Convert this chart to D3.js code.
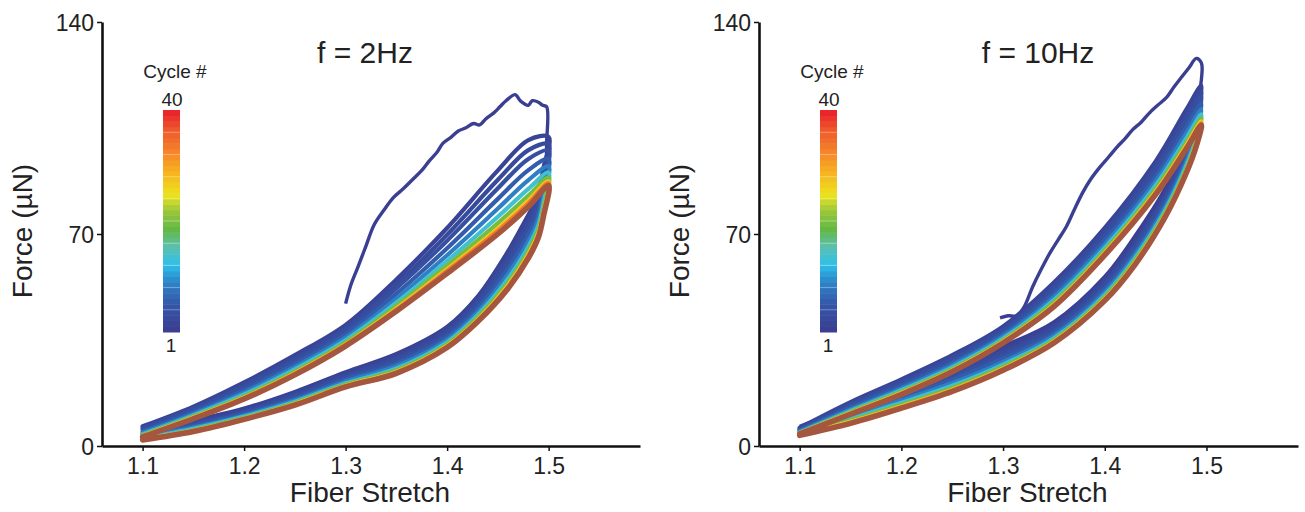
<!DOCTYPE html>
<html>
<head>
<meta charset="utf-8">
<script src="https://cdn.jsdelivr.net/npm/d3@7"></script>
<style>
  html, body { margin: 0; padding: 0; background: #fff; }
  svg { display: block; font-family: "Liberation Sans", Arial, sans-serif; }
  .axis path, .axis line { stroke: #111; }
  .axis text { fill: #222; }
</style>
</head>
<body>
<svg id="chart" width="1305" height="512"></svg>
<script>
// ---- data ----
const xTicks = [1.1, 1.2, 1.3, 1.4, 1.5]
const yTicks = [0, 70, 140]
const cycleIds = [2, 3, 4, 6, 9, 14, 20, 28, 34, 40]

// f = 2Hz
const loadStretch2Hz = [1.10, 1.15, 1.20, 1.25, 1.30, 1.35, 1.40, 1.45, 1.48, 1.50]
const unloadStretch2Hz = [1.50, 1.495, 1.49, 1.48, 1.46, 1.43, 1.40, 1.35, 1.30, 1.25, 1.20, 1.15, 1.10]
const load2Hz = [
  [6.5, 13, 21, 30, 40, 55, 72, 91, 101, 102],
  [6, 12.4, 20.2, 29, 39, 53.4, 69.8, 87.9, 97.7, 99.6],
  [5.5, 11.9, 19.5, 28.2, 38, 52.1, 67.8, 85.1, 94.8, 97.5],
  [4.9, 11.2, 18.5, 27.1, 36.9, 50.3, 65.3, 81.6, 91.1, 94.8],
  [4.4, 10.6, 17.7, 26.1, 35.8, 48.7, 63, 78.4, 87.8, 92.4],
  [3.9, 10.1, 17, 25.3, 34.9, 47.3, 61.1, 75.7, 84.9, 90.3],
  [3.6, 9.7, 16.4, 24.6, 34.2, 46.3, 59.6, 73.6, 82.7, 88.7],
  [3.3, 9.4, 16, 24.1, 33.6, 45.4, 58.4, 71.9, 81, 87.4],
  [3.2, 9.2, 15.8, 23.8, 33.4, 45, 57.8, 71, 80.1, 86.8],
  [3, 9, 15.5, 23.5, 33, 44.5, 57, 70, 79, 86],
]
const unload2Hz = [
  [102, 92, 84, 76, 64, 49, 39, 30, 24, 17.5, 12, 8, 4],
  [99.6, 89.6, 81.8, 73.9, 62.2, 47.8, 38, 29.1, 23.3, 16.9, 11.5, 7.5, 3.7],
  [97.5, 87.5, 79.8, 72.1, 60.6, 46.8, 37.2, 28.3, 22.7, 16.4, 11.1, 7.1, 3.4],
  [94.8, 84.8, 77.3, 69.7, 58.6, 45.4, 36.1, 27.3, 22, 15.7, 10.6, 6.6, 3.1],
  [92.4, 82.4, 75, 67.6, 56.8, 44.2, 35.1, 26.4, 21.3, 15.1, 10.1, 6.1, 2.8],
  [90.3, 80.3, 73, 65.8, 55.2, 43.2, 34.3, 25.6, 20.7, 14.6, 9.7, 5.7, 2.5],
  [88.7, 78.7, 71.6, 64.4, 54, 42.4, 33.6, 25, 20.3, 14.2, 9.3, 5.3, 2.3],
  [87.4, 77.4, 70.4, 63.3, 53.1, 41.7, 33.1, 24.5, 19.9, 13.9, 9.1, 5.1, 2.2],
  [86.6, 76.6, 69.6, 62.6, 52.5, 41.3, 32.8, 24.2, 19.7, 13.7, 9, 5, 2.1],
  [86, 76, 69, 62, 52, 41, 32.5, 24, 19.5, 13.5, 8.8, 4.8, 2],
]
const firstCycle2Hz = [
  [1.300, 47], [1.305, 53], [1.312, 59], [1.320, 66], [1.328, 73], [1.338, 78],
  [1.347, 82], [1.357, 85], [1.366, 88], [1.375, 91], [1.382, 94], [1.390, 97],
  [1.396, 100], [1.404, 102], [1.411, 104], [1.418, 105], [1.426, 106.5], [1.432, 106],
  [1.438, 108], [1.446, 110], [1.452, 112], [1.458, 114], [1.467, 116], [1.472, 114],
  [1.476, 113], [1.480, 112.5], [1.484, 114], [1.490, 113.5], [1.494, 112.5], [1.498, 112],
  [1.498, 100], [1.497, 90], [1.49, 82], [1.48, 76.5], [1.46, 64.5], [1.43, 49.5],
  [1.40, 39.5], [1.35, 30.5], [1.30, 24.5], [1.25, 18], [1.20, 12.5], [1.15, 8.5], [1.10, 4.5],
]

// f = 10Hz
const loadStretch10Hz = [1.10, 1.15, 1.20, 1.25, 1.30, 1.35, 1.40, 1.45, 1.48, 1.495]
const unloadStretch10Hz = [1.495, 1.49, 1.48, 1.46, 1.43, 1.40, 1.35, 1.30, 1.25, 1.20, 1.15, 1.10]
const load10Hz = [
  [6, 14.5, 22, 30, 39.5, 54, 72, 94, 111, 119],
  [5.7, 13.9, 21.3, 29.2, 38.7, 52.8, 70.7, 92.4, 109, 117],
  [5.4, 13.4, 20.6, 28.5, 38, 51.8, 69.5, 90.9, 107.4, 115.4],
  [5.1, 12.7, 19.8, 27.5, 37, 50.4, 68, 89, 105.2, 113.2],
  [4.8, 12.1, 19, 26.7, 36.2, 49.2, 66.6, 87.4, 103.2, 111.2],
  [4.5, 11.6, 18.4, 26, 35.5, 48.2, 65.4, 86, 101.5, 109.5],
  [4.3, 11.2, 17.9, 25.4, 34.9, 47.4, 64.5, 84.9, 100.2, 108.2],
  [4.2, 10.9, 17.5, 25, 34.5, 46.7, 63.8, 84, 99.2, 107.2],
  [4.1, 10.7, 17.2, 24.7, 34.2, 46.3, 63.4, 83.5, 98.5, 106.5],
  [4, 10.5, 17, 24.5, 34, 46, 63, 83, 98, 106],
]
const unload10Hz = [
  [119, 109, 99, 84, 68, 55, 40, 32, 25, 19, 12.5, 6],
  [117, 107.5, 97.7, 82.8, 66.8, 54, 39.1, 31, 24, 18, 11.8, 5.6],
  [115.4, 106.2, 96.5, 81.8, 65.8, 53, 38.3, 30, 23, 17.2, 11.1, 5.3],
  [113.2, 104.5, 95, 80.4, 64.4, 51.9, 37.3, 28.9, 21.9, 16.1, 10.3, 4.9],
  [111.2, 103, 93.6, 79.2, 63.2, 50.8, 36.4, 27.8, 20.8, 15.1, 9.5, 4.5],
  [109.5, 101.7, 92.4, 78.2, 62.2, 49.9, 35.6, 26.9, 19.9, 14.3, 8.9, 4.2],
  [108.2, 100.7, 91.5, 77.4, 61.4, 49.2, 35, 26.2, 19.2, 13.6, 8.4, 3.9],
  [107.2, 99.9, 90.8, 76.7, 60.7, 48.6, 34.5, 25.6, 18.6, 13.1, 8, 3.7],
  [106.5, 99.4, 90.4, 76.3, 60.3, 48.3, 34.2, 25.3, 18.3, 12.8, 7.7, 3.6],
  [106, 99, 90, 76, 60, 48, 34, 25, 18, 12.5, 7.5, 3.5],
]
const firstCycle10Hz = [
  [1.297, 42.3], [1.305, 43], [1.313, 43], [1.320, 45.5], [1.329, 52.5], [1.337, 58],
  [1.346, 63.7], [1.354, 68], [1.362, 72.3], [1.370, 78], [1.378, 83.5], [1.386, 88],
  [1.395, 92], [1.404, 95.5], [1.412, 98.7], [1.420, 101.5], [1.427, 104.3], [1.436, 107],
  [1.444, 110], [1.452, 112.5], [1.461, 115.2], [1.468, 118.5], [1.476, 122], [1.483, 125],
  [1.490, 128], [1.495, 126.5], [1.495, 121], [1.49, 111], [1.48, 101], [1.46, 85.5],
  [1.43, 69.5], [1.40, 56], [1.35, 41], [1.30, 33], [1.25, 26], [1.20, 19.5], [1.15, 13], [1.10, 6.5],
]

// ---- drawing ----
const svg = d3.select('#chart')
const nCycles = 40

const cmap = d3.scaleLinear()
  .domain([0, 0.12, 0.22, 0.3, 0.38, 0.46, 0.55, 0.62, 0.72, 0.82, 0.92, 1])
  .range(['#3a3f92', '#3458aa', '#2d86c8', '#2ec0ea', '#5cbfb0', '#62b846', '#9cc73c',
          '#ece41d', '#f7b51f', '#f5842a', '#ee5a2a', '#e9262b'])
const cycleColor = (c) => c === nCycles ? '#a5563f' : cmap((c - 1) / (nCycles - 1))

function drawPanel({left, right, title, titleX, loadGrid, unloadGrid, load, unload, first}) {
  const x = d3.scaleLinear().domain([1.06, 1.59]).range([left, right])
  const y = d3.scaleLinear().domain([0, 140]).range([446, 22])
  const g = svg.append('g')

  const line = d3.line()
    .x((d) => x(d[0]))
    .y((d) => y(d[1]))
    .curve(d3.curveCatmullRom.alpha(0.5))

  // first cycle underneath
  g.append('path')
    .attr('d', line(first))
    .attr('fill', 'none')
    .attr('stroke', cycleColor(1))
    .attr('stroke-width', 3.4)
    .attr('stroke-linejoin', 'round')

  cycleIds.forEach((c, k) => {
    const pts = loadGrid.map((s, i) => [s, load[k][i]])
      .concat(unloadGrid.slice(1).map((s, i) => [s, unload[k][i + 1]]))
    g.append('path')
      .attr('d', line(pts))
      .attr('fill', 'none')
      .attr('stroke', cycleColor(c))
      .attr('stroke-width', c === nCycles ? 5.5 : 4.2)
      .attr('stroke-linejoin', 'round')
      .attr('stroke-linecap', 'round')
  })

  // axes
  const ax = g.append('g')
    .attr('class', 'axis')
    .attr('transform', 'translate(0,446)')
    .call(d3.axisBottom(x).tickValues(xTicks).tickFormat(d3.format('.1f')).tickSize(5).tickSizeOuter(0).tickPadding(7))
  const ay = g.append('g')
    .attr('class', 'axis')
    .attr('transform', `translate(${left},0)`)
    .call(d3.axisLeft(y).tickValues(yTicks).tickSize(5).tickSizeOuter(0).tickPadding(3))
  ;[ax, ay].forEach((a) => {
    a.select('.domain').attr('stroke-width', 2.6)
    a.selectAll('.tick line').attr('stroke-width', 1.5)
    a.selectAll('.tick text').attr('font-size', 23)
  })
  ay.selectAll('.tick text').attr('dy', '0.36em')

  g.append('text')
    .attr('x', (left + right) / 2 - 1)
    .attr('y', 502)
    .attr('text-anchor', 'middle')
    .attr('font-size', 28)
    .attr('fill', '#222')
    .text('Fiber Stretch')

  g.append('text')
    .attr('transform', `translate(${left - 70},231) rotate(-90)`)
    .attr('text-anchor', 'middle')
    .attr('font-size', 28)
    .attr('fill', '#222')
    .text('Force (µN)')

  g.append('text')
    .attr('x', titleX)
    .attr('y', 63)
    .attr('text-anchor', 'middle')
    .attr('font-size', 30)
    .attr('fill', '#222')
    .text(title)

  // colour bar legend
  const barX = left + 61
  const cb = d3.scaleLinear().domain([0.5, nCycles + 0.5]).range([332, 110])
  const leg = g.append('g')
  leg.selectAll('rect')
    .data(d3.range(1, nCycles + 1))
    .join('rect')
    .attr('x', barX)
    .attr('width', 17)
    .attr('y', (c) => cb(c + 0.5))
    .attr('height', (c) => cb(c - 0.5) - cb(c + 0.5) + 0.5)
    .attr('fill', (c) => cmap((c - 1) / (nCycles - 1)))
  leg.selectAll('line')
    .data(d3.range(4.5, nCycles, 4))
    .join('line')
    .attr('x1', barX).attr('x2', barX + 17)
    .attr('y1', (c) => cb(c)).attr('y2', (c) => cb(c))
    .attr('stroke', '#fff').attr('stroke-opacity', 0.35).attr('stroke-width', 1)
  leg.append('text')
    .attr('x', barX + 12).attr('y', 78)
    .attr('text-anchor', 'middle').attr('font-size', 19).attr('fill', '#222')
    .text('Cycle #')
  leg.append('text')
    .attr('x', barX + 9).attr('y', 106)
    .attr('text-anchor', 'middle').attr('font-size', 19).attr('fill', '#222')
    .text(nCycles)
  leg.append('text')
    .attr('x', barX + 8).attr('y', 352)
    .attr('text-anchor', 'middle').attr('font-size', 19).attr('fill', '#222')
    .text(1)
}

drawPanel({
  left: 102, right: 640, title: 'f = 2Hz', titleX: 365,
  loadGrid: loadStretch2Hz, unloadGrid: unloadStretch2Hz,
  load: load2Hz, unload: unload2Hz, first: firstCycle2Hz,
})
drawPanel({
  left: 759, right: 1298, title: 'f = 10Hz', titleX: 1038,
  loadGrid: loadStretch10Hz, unloadGrid: unloadStretch10Hz,
  load: load10Hz, unload: unload10Hz, first: firstCycle10Hz,
})
</script>
</body>
</html>
